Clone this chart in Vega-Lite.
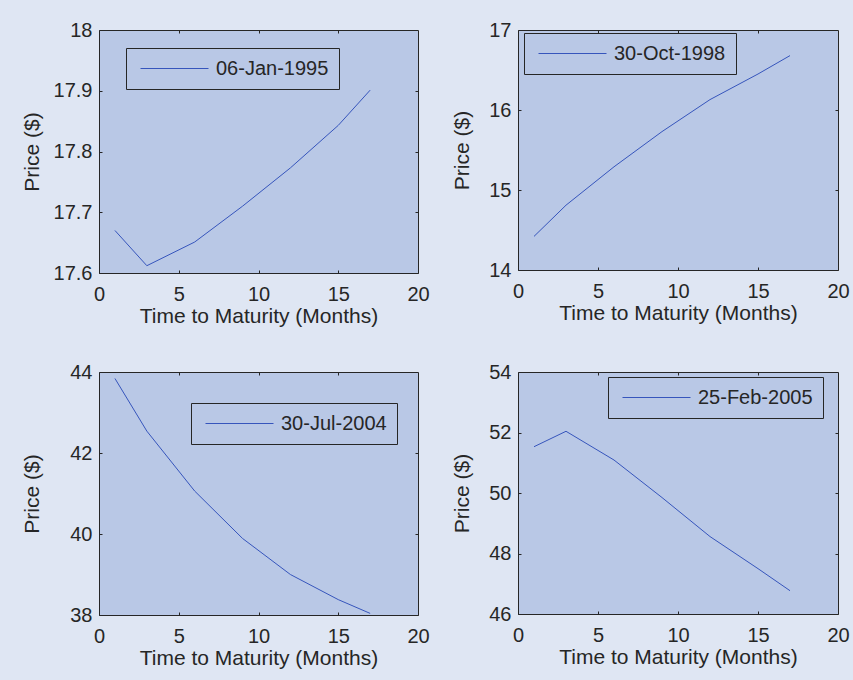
{
  "$schema": "https://vega.github.io/schema/vega-lite/v6.json",
  "background": "#DFE6F3",
  "padding": {"left": 20, "top": 19, "right": 12, "bottom": 16},
  "data": {"values": [
    {"panel": 1, "date": "06-Jan-1995", "t": 1, "price": 17.67},
    {"panel": 1, "date": "06-Jan-1995", "t": 3, "price": 17.612},
    {"panel": 1, "date": "06-Jan-1995", "t": 6, "price": 17.651},
    {"panel": 1, "date": "06-Jan-1995", "t": 9, "price": 17.71},
    {"panel": 1, "date": "06-Jan-1995", "t": 12, "price": 17.773},
    {"panel": 1, "date": "06-Jan-1995", "t": 15, "price": 17.843},
    {"panel": 1, "date": "06-Jan-1995", "t": 17, "price": 17.901},
    {"panel": 2, "date": "30-Oct-1998", "t": 1, "price": 14.42},
    {"panel": 2, "date": "30-Oct-1998", "t": 3, "price": 14.81},
    {"panel": 2, "date": "30-Oct-1998", "t": 6, "price": 15.29},
    {"panel": 2, "date": "30-Oct-1998", "t": 9, "price": 15.73},
    {"panel": 2, "date": "30-Oct-1998", "t": 12, "price": 16.13},
    {"panel": 2, "date": "30-Oct-1998", "t": 15, "price": 16.45},
    {"panel": 2, "date": "30-Oct-1998", "t": 17, "price": 16.68},
    {"panel": 3, "date": "30-Jul-2004", "t": 1, "price": 43.84},
    {"panel": 3, "date": "30-Jul-2004", "t": 3, "price": 42.54},
    {"panel": 3, "date": "30-Jul-2004", "t": 6, "price": 41.06},
    {"panel": 3, "date": "30-Jul-2004", "t": 9, "price": 39.89},
    {"panel": 3, "date": "30-Jul-2004", "t": 12, "price": 39.0},
    {"panel": 3, "date": "30-Jul-2004", "t": 15, "price": 38.38},
    {"panel": 3, "date": "30-Jul-2004", "t": 17, "price": 38.04},
    {"panel": 4, "date": "25-Feb-2005", "t": 1, "price": 51.53},
    {"panel": 4, "date": "25-Feb-2005", "t": 3, "price": 52.04},
    {"panel": 4, "date": "25-Feb-2005", "t": 6, "price": 51.09},
    {"panel": 4, "date": "25-Feb-2005", "t": 9, "price": 49.85},
    {"panel": 4, "date": "25-Feb-2005", "t": 12, "price": 48.56},
    {"panel": 4, "date": "25-Feb-2005", "t": 15, "price": 47.5},
    {"panel": 4, "date": "25-Feb-2005", "t": 17, "price": 46.77}
  ]},
  "columns": 2,
  "spacing": {"row": 99, "column": 100},
  "bounds": "flush",
  "resolve": {"scale": {"color": "independent", "x": "independent", "y": "independent"}, "legend": {"color": "independent"}},
  "concat": [
    {
      "width": 319, "height": 243,
      "transform": [{"filter": "datum.panel == 1"}],
      "layer": [
        {"mark": {"type": "line", "strokeWidth": 1},
         "encoding": {
           "x": {"field": "t", "type": "quantitative", "scale": {"domain": [0, 20], "nice": false}, "axis": {"orient": "bottom", "values": [0, 5, 10, 15, 20], "title": "Time to Maturity (Months)"}},
           "y": {"field": "price", "type": "quantitative", "scale": {"domain": [17.6, 18], "nice": false, "zero": false}, "axis": {"orient": "left", "values": [17.6, 17.7, 17.8, 17.9, 18], "format": "~g", "title": "Price ($)", "minExtent": 50, "maxExtent": 50}},
           "color": {"field": "date", "type": "nominal", "scale": {"range": ["#3655BC"]}, "legend": {"title": null, "orient": "none", "legendX": 27, "legendY": 18}}
         }},
        {"mark": {"type": "line", "opacity": 0},
         "encoding": {
           "x": {"field": "t", "type": "quantitative", "axis": {"orient": "top", "values": [5, 10, 15], "labels": false, "title": null, "minExtent": 0, "maxExtent": 0}},
           "y": {"field": "price", "type": "quantitative", "axis": {"orient": "right", "values": [17.7, 17.8, 17.9], "labels": false, "title": null, "minExtent": 0, "maxExtent": 0}}
         }}
      ],
      "resolve": {"axis": {"x": "independent", "y": "independent"}}
    },
    {
      "width": 320, "height": 240,
      "transform": [{"filter": "datum.panel == 2"}],
      "layer": [
        {"mark": {"type": "line", "strokeWidth": 1},
         "encoding": {
           "x": {"field": "t", "type": "quantitative", "scale": {"domain": [0, 20], "nice": false}, "axis": {"orient": "bottom", "values": [0, 5, 10, 15, 20], "title": "Time to Maturity (Months)"}},
           "y": {"field": "price", "type": "quantitative", "scale": {"domain": [14, 17], "nice": false, "zero": false}, "axis": {"orient": "left", "values": [14, 15, 16, 17], "format": "~g", "title": "Price ($)", "minExtent": 39, "maxExtent": 39}},
           "color": {"field": "date", "type": "nominal", "scale": {"range": ["#3655BC"]}, "legend": {"title": null, "orient": "none", "legendX": 6, "legendY": 3}}
         }},
        {"mark": {"type": "line", "opacity": 0},
         "encoding": {
           "x": {"field": "t", "type": "quantitative", "axis": {"orient": "top", "values": [5, 10, 15], "labels": false, "title": null, "minExtent": 0, "maxExtent": 0}},
           "y": {"field": "price", "type": "quantitative", "axis": {"orient": "right", "values": [15, 16], "labels": false, "title": null, "minExtent": 0, "maxExtent": 0}}
         }}
      ],
      "resolve": {"axis": {"x": "independent", "y": "independent"}}
    },
    {
      "width": 319, "height": 243,
      "transform": [{"filter": "datum.panel == 3"}],
      "layer": [
        {"mark": {"type": "line", "strokeWidth": 1},
         "encoding": {
           "x": {"field": "t", "type": "quantitative", "scale": {"domain": [0, 20], "nice": false}, "axis": {"orient": "bottom", "values": [0, 5, 10, 15, 20], "title": "Time to Maturity (Months)"}},
           "y": {"field": "price", "type": "quantitative", "scale": {"domain": [38, 44], "nice": false, "zero": false}, "axis": {"orient": "left", "values": [38, 40, 42, 44], "format": "~g", "title": "Price ($)", "minExtent": 50, "maxExtent": 50}},
           "color": {"field": "date", "type": "nominal", "scale": {"range": ["#3655BC"]}, "legend": {"title": null, "orient": "none", "legendX": 92, "legendY": 31}}
         }},
        {"mark": {"type": "line", "opacity": 0},
         "encoding": {
           "x": {"field": "t", "type": "quantitative", "axis": {"orient": "top", "values": [5, 10, 15], "labels": false, "title": null, "minExtent": 0, "maxExtent": 0}},
           "y": {"field": "price", "type": "quantitative", "axis": {"orient": "right", "values": [40, 42], "labels": false, "title": null, "minExtent": 0, "maxExtent": 0}}
         }}
      ],
      "resolve": {"axis": {"x": "independent", "y": "independent"}}
    },
    {
      "width": 320, "height": 242,
      "transform": [{"filter": "datum.panel == 4"}],
      "layer": [
        {"mark": {"type": "line", "strokeWidth": 1},
         "encoding": {
           "x": {"field": "t", "type": "quantitative", "scale": {"domain": [0, 20], "nice": false}, "axis": {"orient": "bottom", "values": [0, 5, 10, 15, 20], "title": "Time to Maturity (Months)"}},
           "y": {"field": "price", "type": "quantitative", "scale": {"domain": [46, 54], "nice": false, "zero": false}, "axis": {"orient": "left", "values": [46, 48, 50, 52, 54], "format": "~g", "title": "Price ($)", "minExtent": 39, "maxExtent": 39}},
           "color": {"field": "date", "type": "nominal", "scale": {"range": ["#3655BC"]}, "legend": {"title": null, "orient": "none", "legendX": 90, "legendY": 5}}
         }},
        {"mark": {"type": "line", "opacity": 0},
         "encoding": {
           "x": {"field": "t", "type": "quantitative", "axis": {"orient": "top", "values": [5, 10, 15], "labels": false, "title": null, "minExtent": 0, "maxExtent": 0}},
           "y": {"field": "price", "type": "quantitative", "axis": {"orient": "right", "values": [48, 50, 52], "labels": false, "title": null, "minExtent": 0, "maxExtent": 0}}
         }}
      ],
      "resolve": {"axis": {"x": "independent", "y": "independent"}}
    }
  ],
  "config": {
    "font": "Liberation Sans",
    "view": {"fill": "#B9C8E6", "stroke": "#262626", "strokeWidth": 1},
    "axis": {"domain": false, "grid": false, "labelFontSize": 20, "labelColor": "#262626", "labelFont": "Liberation Sans", "titleFont": "Liberation Sans", "titleFontSize": 21, "titleColor": "#262626", "titleFontWeight": "normal", "tickColor": "#262626", "tickSize": -3, "tickWidth": 1, "labelPadding": 10, "titlePadding": 7, "labelOverlap": false, "labelBound": false, "labelFlush": false},
    "axisBottom": {"labelPadding": 14, "titlePadding": 1},
    "legend": {"strokeColor": "#262626", "fillColor": "#B9C8E6", "padding": 10, "labelFontSize": 20, "labelColor": "#262626", "labelFont": "Liberation Sans", "symbolType": "M-1,0L5.8,0", "symbolSize": 400, "symbolStrokeWidth": 1, "labelOffset": 55, "symbolOffset": 4, "labelLimit": 300}
  }
}
